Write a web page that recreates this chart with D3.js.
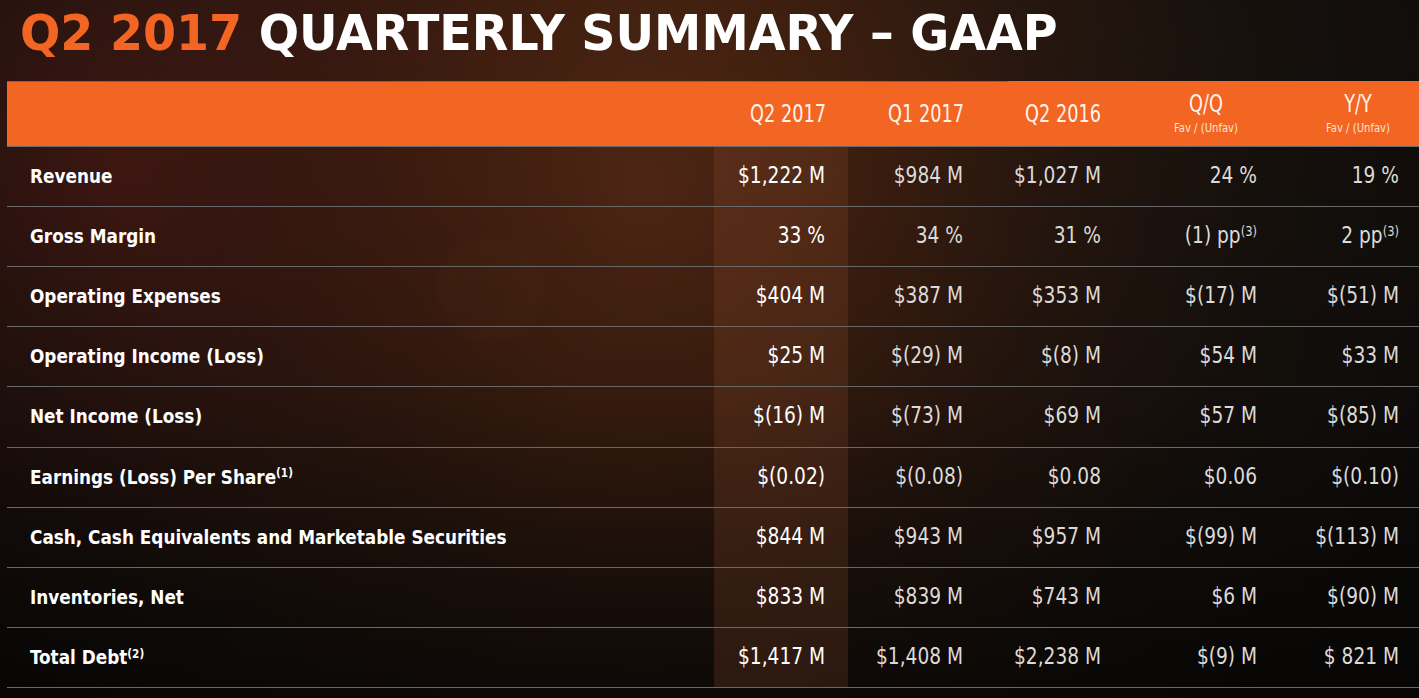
<!DOCTYPE html>
<html><head><meta charset="utf-8">
<script src="https://cdn.jsdelivr.net/npm/d3@7"></script>
<style>html,body{margin:0;padding:0;background:#110e0c;overflow:hidden}</style>
</head><body>
<svg id="c" width="1419" height="698"></svg>
<script>
// ---- data ----
const metrics = ["Revenue","Gross Margin","Operating Expenses","Operating Income (Loss)","Net Income (Loss)","Earnings (Loss) Per Share^(1)","Cash, Cash Equivalents and Marketable Securities","Inventories, Net","Total Debt^(2)"];
const periods = ["Q2 2017","Q1 2017","Q2 2016","Q/Q","Y/Y"];
const periodSubs = ["","","","Fav / (Unfav)","Fav / (Unfav)"];
const q2_2017 = ["$1,222 M","33 %","$404 M","$25 M","$(16) M","$(0.02)","$844 M","$833 M","$1,417 M"];
const q1_2017 = ["$984 M","34 %","$387 M","$(29) M","$(73) M","$(0.08)","$943 M","$839 M","$1,408 M"];
const q2_2016 = ["$1,027 M","31 %","$353 M","$(8) M","$69 M","$0.08","$957 M","$743 M","$2,238 M"];
const qq = ["24 %","(1) pp^(3)","$(17) M","$54 M","$57 M","$0.06","$(99) M","$6 M","$(9) M"];
const yy = ["19 %","2 pp^(3)","$(51) M","$33 M","$(85) M","$(0.10)","$(113) M","$(90) M","$ 821 M"];
const titleAccent = "Q2 2017";
const titleMain = "QUARTERLY SUMMARY – GAAP";

const seriesValues = [q2_2017, q1_2017, q2_2016, qq, yy];

// ---- layout ----
const W = 1419, H = 698;
const FONT = "'Liberation Sans Narrow','DejaVu Sans Condensed','Arial Narrow',sans-serif";
const ORANGE = "#f26522";
const svg = d3.select("#c");
const defs = svg.append("defs");

const g1 = defs.append("radialGradient").attr("id","bg1").attr("gradientUnits","userSpaceOnUse")
  .attr("cx",640).attr("cy",190).attr("r",820);
[[0,"#532816"],[0.25,"#41200f"],[0.5,"#27170f"],[0.75,"#17110d"],[1,"#100d0b"]]
  .forEach(([o,c])=>g1.append("stop").attr("offset",o).attr("stop-color",c));
const g2 = defs.append("radialGradient").attr("id","bg2").attr("gradientUnits","userSpaceOnUse")
  .attr("cx",120).attr("cy",170).attr("r",520);
[[0,"rgba(95,28,22,0.55)"],[0.6,"rgba(70,22,18,0.2)"],[1,"rgba(40,15,10,0)"]]
  .forEach(([o,c])=>g2.append("stop").attr("offset",o).attr("stop-color",c));
const g3 = defs.append("linearGradient").attr("id","bg3").attr("x1",0).attr("y1",0).attr("x2",0).attr("y2",1);
[[0,"rgba(0,0,0,0)"],[0.55,"rgba(0,0,0,0.15)"],[1,"rgba(0,0,0,0.55)"]]
  .forEach(([o,c])=>g3.append("stop").attr("offset",o).attr("stop-color",c));
const g4 = defs.append("radialGradient").attr("id","orb");
[[0,"rgba(90,50,30,0.04)"],[0.8,"rgba(100,60,35,0.08)"],[1,"rgba(100,60,35,0)"]]
  .forEach(([o,c])=>g4.append("stop").attr("offset",o).attr("stop-color",c));

svg.append("rect").attr("width",W).attr("height",H).attr("fill","#100d0b");
svg.append("rect").attr("width",W).attr("height",H).attr("fill","url(#bg1)");
svg.append("rect").attr("width",W).attr("height",H).attr("fill","url(#bg2)");
svg.append("rect").attr("width",W).attr("height",H).attr("fill","url(#bg3)");
svg.append("circle").attr("cx",490).attr("cy",290).attr("r",58).attr("fill","url(#orb)");

// measuring helper
function measure(str, size, weight){
  const t = svg.append("text").attr("font-family",FONT).attr("font-size",size)
    .attr("font-weight",weight).text(str);
  const w = t.node().getComputedTextLength(); t.remove(); return w;
}
function addText(sel, str){
  const parts = str.split("^");
  sel.append("tspan").text(parts[0]);
  if (parts[1]) sel.append("tspan").attr("font-size","0.62em").attr("dy","-0.5em").text(parts[1]);
}

// title
const titleSize = 50;
const titleW = measure(titleAccent + " " + titleMain, titleSize, "bold");
const titleSx = 1038 / titleW;
const tt = svg.append("text").attr("transform",`translate(20,50) scale(${titleSx},1)`)
  .attr("font-family",FONT).attr("font-size",titleSize).attr("font-weight","bold");
tt.append("tspan").attr("fill",ORANGE).text(titleAccent + " ");
tt.append("tspan").attr("fill","#ffffff").text(titleMain);

// scales
const y = d3.scaleBand().domain(metrics).range([146,687]);
const xVal = d3.scaleOrdinal().domain(periods).range([825,963,1101,1257,1399]);
const xHead = d3.scaleOrdinal().domain(periods).range([826,964,1101,1206,1358]);
const headAnchor = d3.scaleOrdinal().domain(periods).range(["end","end","end","middle","middle"]);

// header bar
svg.append("rect").attr("x",7).attr("y",81).attr("width",W-7).attr("height",65).attr("fill",ORANGE);
svg.append("line").attr("x1",7).attr("x2",1008).attr("y1",81.5).attr("y2",81.5).attr("stroke","#6a6a6a");

// highlight column
svg.append("rect").attr("x",714).attr("y",146).attr("width",134).attr("height",687-146)
  .attr("fill","rgba(150,80,50,0.22)");

// separators
svg.append("line").attr("x1",7).attr("x2",W).attr("y1",146.5).attr("y2",146.5).attr("stroke","#6a6a6a");
svg.selectAll("line.sep").data(metrics).join("line").attr("class","sep")
  .attr("x1",7).attr("x2",W)
  .attr("y1",d=>Math.round(y(d)+y.bandwidth())+0.5).attr("y2",d=>Math.round(y(d)+y.bandwidth())+0.5)
  .attr("stroke","#686868").attr("stroke-width",1);

// headers
const headSize = 24;
const headW = measure("Q2 2017", headSize, "normal");
const headSx = 76 / headW;
svg.selectAll("text.head").data(periods).join("text").attr("class","head")
  .attr("transform",(d,i)=>`translate(${xHead(d)},${periodSubs[i] ? 112 : 122}) scale(${headSx},1)`)
  .attr("text-anchor",d=>headAnchor(d)).attr("font-family",FONT).attr("font-size",headSize)
  .attr("fill","#fff3ea").text(d=>d);
const subW = measure("Fav / (Unfav)", 12, "normal");
const subSx = 64 / subW;
svg.selectAll("text.sub").data(periods.filter((d,i)=>periodSubs[i])).join("text").attr("class","sub")
  .attr("transform",d=>`translate(${xHead(d)},132) scale(${subSx},1)`)
  .attr("text-anchor","middle").attr("font-family",FONT).attr("font-size",12)
  .attr("fill","#fde3d3").text(d=>periodSubs[periods.indexOf(d)]);

// row labels
const labelSize = 20;
const lw = measure("Cash, Cash Equivalents and Marketable Securities", labelSize, "bold");
const labelSx = 477 / lw;
svg.selectAll("text.lab").data(metrics).join("text").attr("class","lab")
  .attr("transform",d=>`translate(30,${y(d)+37}) scale(${labelSx},1)`)
  .attr("font-family",FONT).attr("font-size",labelSize).attr("font-weight","bold").attr("fill","#ffffff")
  .each(function(d){ addText(d3.select(this), d); });

// values
const valSize = 23;
const vw = measure("$1,222 M", valSize, "normal");
const valSx = 87 / vw;
periods.forEach((p,ci)=>{
  svg.append("g").selectAll("text").data(seriesValues[ci]).join("text")
    .attr("transform",(d,ri)=>`translate(${xVal(p)},${y(metrics[ri])+37}) scale(${valSx},1)`)
    .attr("text-anchor","end").attr("font-family",FONT).attr("font-size",valSize)
    .attr("fill", ci===0 ? "#ffffff" : "#dcdad8")
    .each(function(d){ addText(d3.select(this), d); });
});
</script>
</body></html>
